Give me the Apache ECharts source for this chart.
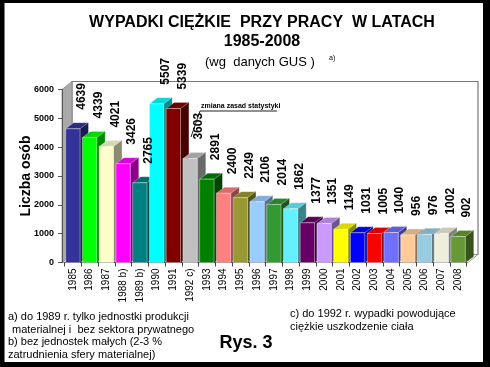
<!DOCTYPE html>
<html><head><meta charset="utf-8">
<script src="https://cdn.jsdelivr.net/npm/echarts/dist/echarts.min.js"></script>
<style>html,body{margin:0;padding:0;background:#fff}#c{width:490px;height:367px}</style>
</head><body><div id="c"></div>
<script>
// ---- data ----
const categories = ['1985','1986','1987','1988 b)','1989 b)','1990','1991','1992 c)','1993','1994','1995','1996','1997','1998','1999','2000','2001','2002','2003','2004','2005','2006','2007','2008'];
const values = [4639,4339,4021,3426,2765,5507,5339,3603,2891,2400,2249,2106,2014,1862,1377,1351,1149,1031,1005,1040,956,976,1002,902];
const barColors = ['#333399','#00ff00','#ffffcc','#ff00ff','#008080','#00ffff','#800000','#c0c0c0','#008000','#ff8080','#999933','#99ccff','#339933','#66f0ff','#660066','#cc99ff','#ffff00','#0000ff','#ff0000','#7070ff','#ffcc99','#99cce0','#eeeedd','#669933'];
const yMin = 0, yMax = 6000, yStep = 1000;

// ---- layout ----
const FONT = '"Liberation Sans", Arial, sans-serif';
const GL = 64.5, GRt = 23.5, GT = 89.5, GBt = 104.5;
const AX = 62;            // y-axis line x
const DX = 8, DY = -6;    // bar depth
const WX = 10, WY = -8;   // wall depth
const WALL_R = 478;
const FLOOR_Y = 367 - GBt;

function shade(hex, f) {
  const n = parseInt(hex.slice(1), 16);
  const r = Math.round(((n >> 16) & 255) * f), g = Math.round(((n >> 8) & 255) * f), b = Math.round((n & 255) * f);
  return 'rgb(' + r + ',' + g + ',' + b + ')';
}

function renderBar(params, api) {
  const idx = api.value(0), v = api.value(1);
  const base = api.coord([idx, 0]);
  const top = api.coord([idx, v]);
  const band = api.size([1, 0])[0];
  const w = band * 0.86;
  const x0 = base[0] - w / 2, x1 = base[0] + w / 2;
  const yb = base[1], yt = top[1];
  const c = barColors[params.dataIndex];
  return {
    type: 'group',
    children: [
      { type: 'polygon', shape: { points: [[x1, yb], [x1 + DX, yb + DY], [x1 + DX, yt + DY], [x1, yt]] },
        style: { fill: shade(c, 0.55), stroke: shade(c, 0.45), lineWidth: 0.5 } },
      { type: 'polygon', shape: { points: [[x0, yt], [x0 + DX, yt + DY], [x1 + DX, yt + DY], [x1, yt]] },
        style: { fill: shade(c, 0.85), stroke: 'rgba(255,255,255,0.5)', lineWidth: 0.5 } },
      { type: 'rect', shape: { x: x0, y: yt, width: w, height: yb - yt },
        style: { fill: c, stroke: 'rgba(255,255,255,0.55)', lineWidth: 0.7 } },
      { type: 'text', x: base[0] + 9, y: yt - 19, rotation: Math.PI / 2, z2: 100,
        style: { text: String(v), font: 'bold 12px ' + FONT, fill: '#000', align: 'left', verticalAlign: 'middle' } }
    ]
  };
}

const chart = echarts.init(document.getElementById('c'), null, { renderer: 'canvas' });
chart.setOption({
  animation: false,
  backgroundColor: '#fff',
  grid: { left: GL, right: GRt, top: GT, bottom: GBt, containLabel: false },
  xAxis: {
    type: 'category', data: categories, boundaryGap: true,
    axisLine: { show: true, lineStyle: { color: '#444', width: 1 } },
    axisTick: { show: true, alignWithLabel: false, length: 4, lineStyle: { color: '#444' } },
    axisLabel: { rotate: 90, fontSize: 10, fontFamily: FONT, color: '#000', margin: 6, interval: 0 },
    splitLine: { show: false }
  },
  yAxis: {
    type: 'value', min: yMin, max: yMax, interval: yStep, offset: GL - AX,
    name: 'Liczba osób', nameLocation: 'middle', nameRotate: 90, nameGap: 29, nameMoveOverlap: false,
    nameTextStyle: { fontSize: 14, fontWeight: 'bold', fontFamily: FONT, color: '#000' },
    axisLine: { show: true, lineStyle: { color: '#555', width: 1 } },
    axisTick: { show: true, length: 4, lineStyle: { color: '#555' } },
    axisLabel: { fontSize: 9, fontWeight: 'bold', fontFamily: FONT, color: '#000', margin: 8, formatter: v => String(v) },
    splitLine: { show: false }
  },
  series: [{
    type: 'custom', renderItem: renderBar, z: 5,
    data: values.map((v, i) => [i, v]),
    encode: { x: 0, y: 1 }
  }],
  graphic: [
    // walls (decoration)
    { type: 'polygon', z: -10, shape: { points: [[AX + WX, GT + WY], [WALL_R, GT + WY], [WALL_R, FLOOR_Y + WY], [AX + WX, FLOOR_Y + WY]] },
      style: { fill: '#fff', stroke: '#777', lineWidth: 1.2 } },
    { type: 'polygon', z: -9, shape: { points: [[AX, GT], [AX + WX, GT + WY], [AX + WX, FLOOR_Y + WY], [AX, FLOOR_Y]] },
      style: { fill: '#a9a9a9', stroke: '#888', lineWidth: 0.8 } },
    { type: 'polygon', z: -9, shape: { points: [[AX, FLOOR_Y], [AX + WX, FLOOR_Y + WY], [WALL_R, FLOOR_Y + WY], [WALL_R - WX, FLOOR_Y]] },
      style: { fill: '#f4f4f4', stroke: '#888', lineWidth: 0.8 } },
    // titles
    { type: 'text', x: 262, y: 23, style: { text: 'WYPADKI CIĘŻKIE  PRZY PRACY  W LATACH', font: 'bold 16px ' + FONT, fill: '#000', align: 'center', verticalAlign: 'middle' } },
    { type: 'text', x: 262, y: 41.5, style: { text: '1985-2008', font: 'bold 16px ' + FONT, fill: '#000', align: 'center', verticalAlign: 'middle' } },
    { type: 'text', x: 205, y: 62.5, style: { text: '(wg  danych GUS )', font: '13px ' + FONT, fill: '#000', align: 'left', verticalAlign: 'middle' } },
    { type: 'text', x: 329, y: 58, style: { text: 'a)', font: '7px ' + FONT, fill: '#000', align: 'left', verticalAlign: 'middle' } },
    // annotation
    { type: 'text', x: 201, y: 106, z: 20, style: { text: 'zmiana zasad statystyki', font: 'bold 7px ' + FONT, fill: '#000', align: 'left', verticalAlign: 'middle' } },
    { type: 'polyline', z: 20, shape: { points: [[277, 111], [200, 111], [191, 137]] }, style: { stroke: '#222', lineWidth: 1, fill: null } },
    // footnotes
    { type: 'text', x: 8, y: 317, style: { text: 'a) do 1989 r. tylko jednostki produkcji', font: '11px ' + FONT, fill: '#000', align: 'left', verticalAlign: 'middle' } },
    { type: 'text', x: 12, y: 329.5, style: { text: 'materialnej i  bez sektora prywatnego', font: '11px ' + FONT, fill: '#000', align: 'left', verticalAlign: 'middle' } },
    { type: 'text', x: 8, y: 342, style: { text: 'b) bez jednostek małych (2-3 %', font: '11px ' + FONT, fill: '#000', align: 'left', verticalAlign: 'middle' } },
    { type: 'text', x: 8, y: 354.5, style: { text: 'zatrudnienia sfery materialnej)', font: '11px ' + FONT, fill: '#000', align: 'left', verticalAlign: 'middle' } },
    { type: 'text', x: 290, y: 314, style: { text: 'c) do 1992 r. wypadki powodujące', font: '11px ' + FONT, fill: '#000', align: 'left', verticalAlign: 'middle' } },
    { type: 'text', x: 290, y: 326.5, style: { text: 'ciężkie uszkodzenie ciała', font: '11px ' + FONT, fill: '#000', align: 'left', verticalAlign: 'middle' } },
    { type: 'text', x: 246, y: 343, style: { text: 'Rys. 3', font: 'bold 18px ' + FONT, fill: '#000', align: 'center', verticalAlign: 'middle' } },
    // frame
    { type: 'rect', z: 50, shape: { x: 0, y: 0, width: 490, height: 3 }, style: { fill: '#000' } },
    { type: 'rect', z: 50, shape: { x: 0, y: 362, width: 490, height: 5 }, style: { fill: '#000' } },
    { type: 'rect', z: 50, shape: { x: 0, y: 0, width: 4.5, height: 367 }, style: { fill: '#000' } },
    { type: 'rect', z: 50, shape: { x: 483, y: 0, width: 7, height: 367 }, style: { fill: '#000' } }
  ]
});
</script>
</body></html>
